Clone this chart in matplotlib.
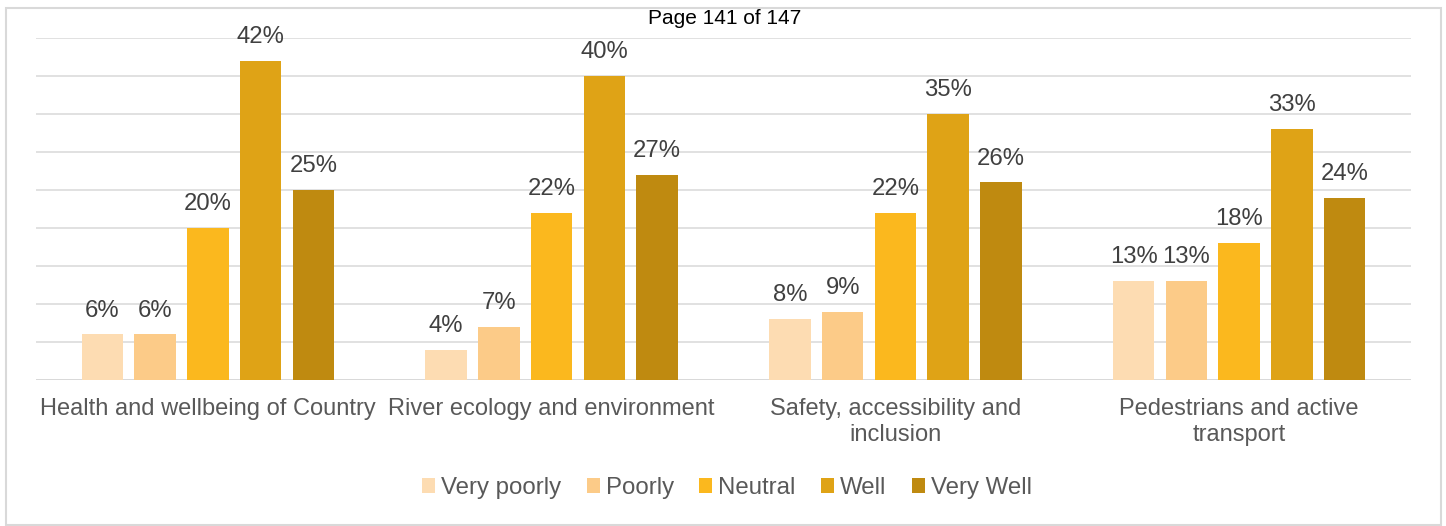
import matplotlib
matplotlib.use("Agg")
import matplotlib.pyplot as plt
import numpy as np
from matplotlib.patches import Rectangle

plt.rcParams['font.family'] = ['Liberation Sans', 'DejaVu Sans']

categories = ["Health and wellbeing of Country", "River ecology and environment",
              "Safety, accessibility and\ninclusion", "Pedestrians and active\ntransport"]
series_names = ["Very poorly", "Poorly", "Neutral", "Well", "Very Well"]
very_poorly = [6, 4, 8, 13]
poorly = [6, 7, 9, 13]
neutral = [20, 22, 22, 18]
well = [42, 40, 35, 33]
very_well = [25, 27, 26, 24]
series_values = [very_poorly, poorly, neutral, well, very_well]
colors = ["#FDDCB2", "#FCCB88", "#FBB81E", "#DFA316", "#BF8A10"]

fig = plt.figure(figsize=(14.46, 5.26), dpi=100)
ax = fig.add_axes([36/1446, 1-380/526, (1411-36)/1446, (380-38)/526])

x = np.arange(len(categories))
pitch = 0.1533
bw = 0.1207
for j, (name, vals, c) in enumerate(zip(series_names, series_values, colors)):
    pos = x + (j - 2) * pitch
    bars = ax.bar(pos, [v/100 for v in vals], width=bw, color=c, label=name, zorder=3)
    for b, v in zip(bars, vals):
        ax.annotate(f"{v}%", (b.get_x() + b.get_width()/2, b.get_height()),
                    xytext=(0, 12.8), textcoords="offset points", ha="center",
                    va="baseline", fontsize=17.2, color="#404040")

ax.set_ylim(0, 0.45)
ax.set_xlim(-0.5, len(categories) - 0.5)
ax.set_yticks(np.arange(0, 0.451, 0.05))
ax.yaxis.grid(True, color="#D9D9D9", linewidth=1.1, zorder=0)
ax.set_yticklabels([])
ax.tick_params(axis='y', length=0)
ax.tick_params(axis='x', length=0, pad=13)
ax.set_xticks(x)
ax.set_xticklabels(categories, fontsize=17, color="#595959", linespacing=1.22)
for s in ax.spines.values():
    s.set_visible(False)
ax.axhline(0, color="#D9D9D9", linewidth=1.3, zorder=2)

leg = fig.legend(loc="center", bbox_to_anchor=(727/1446, 1-488/526), ncol=5, frameon=False,
                 fontsize=17.3, handlelength=0.55, handleheight=0.55, handletextpad=0.25,
                 columnspacing=1.05, labelcolor="#595959")

fig.text(725/1446, 1-18/526, "Page 141 of 147", ha="center", va="center", fontsize=15, color="black")

fig.patches.append(Rectangle((6/1446, 1-525/526), (1441-6)/1446, (525-8)/526,
                             transform=fig.transFigure, fill=False, edgecolor="#D9D9D9",
                             linewidth=1.5))

fig.savefig("out.png", dpi=100, facecolor="white")
